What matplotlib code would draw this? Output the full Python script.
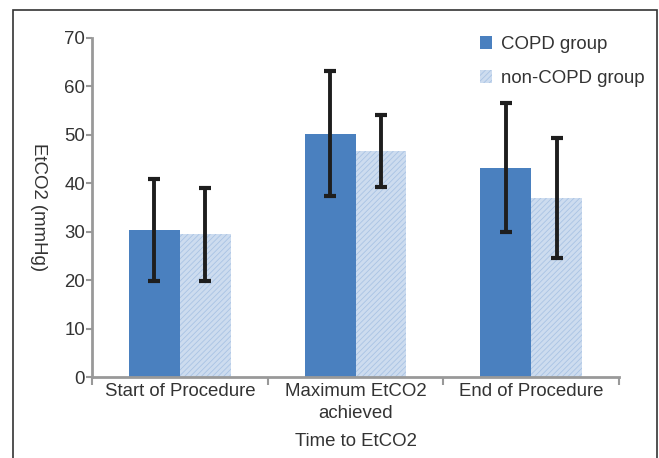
import matplotlib
matplotlib.use("Agg")
import matplotlib.pyplot as plt
import matplotlib.patches as mpatches
import numpy as np

plt.rcParams['font.family'] = ['Liberation Sans', 'DejaVu Sans']

# 数据
categories = ["Start of Procedure", "Maximum EtCO2\nachieved", "End of Procedure"]
copd_mean = [30.4, 50.2, 43.2]
copd_sd = [10.5, 12.9, 13.3]
non_copd_mean = [29.5, 46.7, 37.0]
non_copd_sd = [9.6, 7.4, 12.4]
yticks = [0, 10, 20, 30, 40, 50, 60, 70]

copd_color = "#4a80bf"
non_color = "#cddcef"
hatch_color = "#a9c3e4"
axis_color = "#999999"
text_color = "#333333"
fs = 13.4

fig = plt.figure(figsize=(6.59, 4.58), dpi=100)
ax = fig.add_axes((92 / 659, 1 - 377 / 458, 527 / 659, 339 / 458))

x = np.arange(len(categories))
w = 0.29
plt.rcParams['hatch.linewidth'] = 0.6

ax.bar(x - w / 2, copd_mean, width=w, color=copd_color, linewidth=0, label="COPD group", zorder=2)
ax.bar(x + w / 2, non_copd_mean, width=w, facecolor=non_color, edgecolor=hatch_color,
       hatch="//////", linewidth=0, label="non-COPD group", zorder=2)

ax.errorbar(x - w / 2, copd_mean, yerr=copd_sd, fmt="none", ecolor="#1e1e1e",
            elinewidth=2.8, capsize=4.5, capthick=3, zorder=3)
ax.errorbar(x + w / 2, non_copd_mean, yerr=non_copd_sd, fmt="none", ecolor="#1e1e1e",
            elinewidth=2.8, capsize=4.5, capthick=3, zorder=3)

ax.set_xlim(-0.5, 2.5)
ax.set_ylim(0, 70)
ax.set_yticks(yticks)

# x轴: 分组边界处刻度, 标签放在中间
ax.set_xticks([-0.5, 0.5, 1.5, 2.5])
ax.set_xticklabels([])
ax.set_xticks(x, minor=True)
ax.set_xticklabels(categories, minor=True, fontsize=fs, color=text_color, linespacing=1.35)
ax.tick_params(axis="x", which="major", length=6, width=1.5, color=axis_color, direction="out")
ax.tick_params(axis="x", which="minor", length=0, pad=4.5)
ax.tick_params(axis="y", length=4, width=1.5, color=axis_color, pad=1,
               labelsize=fs, labelcolor=text_color)

for s in ["top", "right"]:
    ax.spines[s].set_visible(False)
for s in ["left", "bottom"]:
    ax.spines[s].set_color(axis_color)
    ax.spines[s].set_linewidth(2)

ax.set_ylabel("EtCO2 (mmHg)", fontsize=fs, color=text_color, rotation=-90,
              va="center", labelpad=6)
ax.yaxis.set_label_coords(-0.102, 0.5)
ax.set_xlabel("Time to EtCO2", fontsize=fs, color=text_color, labelpad=8)

ax.legend(loc="upper left", bbox_to_anchor=(0.705, 1.055), frameon=False, fontsize=fs,
          handlelength=0.65, handleheight=0.65, handletextpad=0.45, labelspacing=0.9,
          labelcolor=text_color)

# 外框
fig.patches.append(mpatches.Rectangle((13 / 659, -0.1), 644 / 659, 1 - 10 / 458 + 0.1,
                                      transform=fig.transFigure, fill=False,
                                      edgecolor="#333333", linewidth=1.2))

fig.savefig("out.png", dpi=100)
